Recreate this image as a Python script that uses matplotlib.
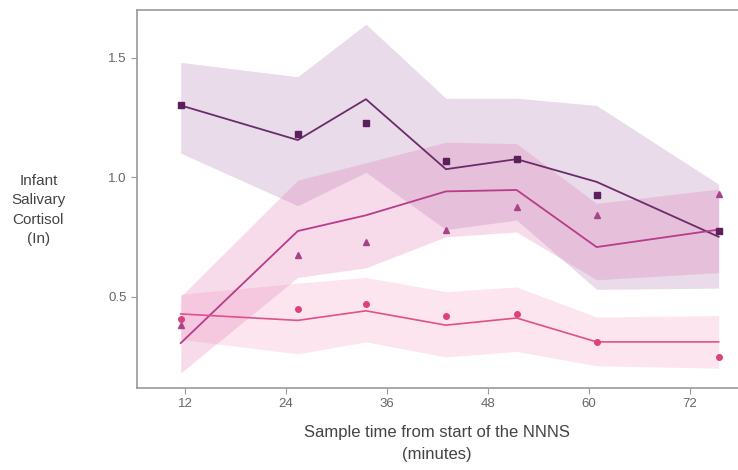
import numpy as np
import matplotlib
matplotlib.use("Agg")
import matplotlib.pyplot as plt

plt.rcParams['font.family'] = ['Liberation Sans', 'DejaVu Sans']

# sample times (minutes)
t = [11.5, 25.4, 33.5, 43.0, 51.4, 60.9, 75.4]

# group A (squares, dark purple)
a_obs = [1.30, 1.18, 1.226, 1.067, 1.075, 0.927, 0.774]
a_fit = [1.30, 1.155, 1.326, 1.033, 1.075, 0.98, 0.75]
a_lo = [1.10, 0.88, 1.02, 0.78, 0.82, 0.53, 0.535]
a_hi = [1.48, 1.42, 1.64, 1.33, 1.33, 1.30, 0.97]

# group B (triangles, magenta)
b_obs = [0.38, 0.674, 0.73, 0.78, 0.875, 0.84, 0.93]
b_fit = [0.305, 0.774, 0.84, 0.94, 0.946, 0.707, 0.78]
b_lo = [0.18, 0.58, 0.62, 0.75, 0.77, 0.57, 0.60]
b_hi = [0.50, 0.987, 1.06, 1.146, 1.14, 0.89, 0.95]

# group C (circles, pink)
c_obs = [0.405, 0.447, 0.47, 0.42, 0.427, 0.31, 0.247]
c_fit = [0.427, 0.40, 0.44, 0.38, 0.41, 0.31, 0.31]
c_lo = [0.32, 0.26, 0.31, 0.247, 0.27, 0.21, 0.20]
c_hi = [0.51, 0.556, 0.58, 0.52, 0.54, 0.414, 0.42]

yticks = [0.5, 1.0, 1.5]
xticks = [12, 24, 36, 48, 60, 72]

fig = plt.figure(figsize=(7.38, 4.70), dpi=100)
ax = fig.add_axes([0.1856, 0.1745, 0.8144, 0.804])

ax.fill_between(t, a_lo, a_hi, color='#9c5f9c', alpha=0.22, lw=0)
ax.fill_between(t, b_lo, b_hi, color='#e070b0', alpha=0.25, lw=0)
ax.fill_between(t, c_lo, c_hi, color='#f080b0', alpha=0.20, lw=0)

ax.plot(t, a_fit, color='#6a2c6a', lw=1.3)
ax.plot(t, b_fit, color='#b83c8a', lw=1.3)
ax.plot(t, c_fit, color='#e0508a', lw=1.2)

ax.plot(t, a_obs, 's', color='#5c1f5c', ms=4.5, ls='none')
ax.plot(t, b_obs, '^', color='#a8438a', ms=5, ls='none')
ax.plot(t, c_obs, 'o', color='#e0407a', ms=4, ls='none')

ax.set_xlim(6.3, 77.7)
ax.set_ylim(0.117, 1.699)
ax.set_xticks(xticks)
ax.set_yticks(yticks)
ax.set_yticklabels(['0.5', '1.0', '1.5'])

for s in ['left', 'bottom', 'top']:
    ax.spines[s].set_color('#9a9a9a')
    ax.spines[s].set_linewidth(1.2)
ax.spines['right'].set_visible(False)
ax.tick_params(colors='#666666', labelsize=9.5, length=4, width=0.8,
               color='#9a9a9a')

fig.text(0.052, 0.553, 'Infant\nSalivary\nCortisol\n(In)', ha='center',
         va='center', fontsize=11, color='#444444', linespacing=1.5)
fig.text(0.592, 0.057, 'Sample time from start of the NNNS\n(minutes)',
         ha='center', va='center', fontsize=12, color='#444444',
         linespacing=1.55)

fig.savefig('out.png', dpi=100)
